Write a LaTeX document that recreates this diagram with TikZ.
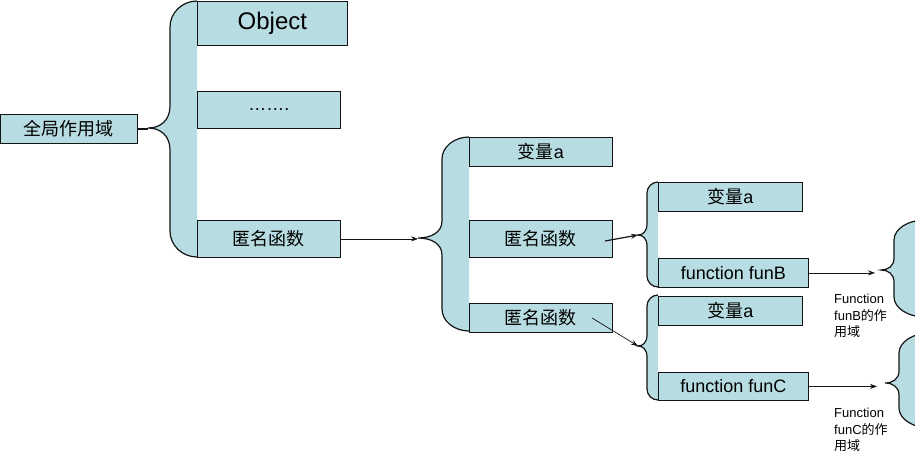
\documentclass[tikz,border=0pt]{standalone}
\usepackage{fontspec}
\setmainfont{Liberation Sans}
\newfontfamily\cjk{Noto Sans CJK SC}
\usepackage{xcolor}
\definecolor{scopeblue}{RGB}{183,221,226}
\definecolor{ink}{RGB}{20,20,20}
\usetikzlibrary{arrows.meta,calc}
\tikzset{
  scopebox/.style={draw=ink, fill=scopeblue, line width=0.8pt, inner sep=0pt,
                   anchor=north west, font=\fontsize{18}{20}\selectfont},
  bracefill/.style={fill=scopeblue},
  braceline/.style={draw=ink, line width=1.2pt},
  link/.style={draw=ink, line width=0.7pt, -{Stealth[length=7pt,width=5pt]}},
  note/.style={anchor=north west, inner sep=0pt, align=left,
               font=\fontsize{13}{16.5}\selectfont},
}
% name, x of brace, x of boxes, top, bottom, tip x, tip y, corner, tip height
\newcommand{\scopebrace}[9]{%
  \coordinate (#1) at (#6,#7);
  \fill[bracefill] (#3,#4) .. controls ({#3-(#3-#2)*0.55},#4) and (#2,{#4+#8*0.45}) .. (#2,{#4+#8})
    -- (#2,{#7-#9}) .. controls (#2,{#7-#9/3}) and ({#2-(#2-#6)*0.45},#7) .. (#6,#7)
    .. controls ({#2-(#2-#6)*0.45},#7) and (#2,{#7+#9/3}) .. (#2,{#7+#9})
    -- (#2,{#5-#8}) .. controls (#2,{#5-#8*0.45}) and ({#3-(#3-#2)*0.55},#5) .. (#3,#5) -- cycle;
  \draw[braceline] (#3,#4) .. controls ({#3-(#3-#2)*0.55},#4) and (#2,{#4+#8*0.45}) .. (#2,{#4+#8})
    -- (#2,{#7-#9}) .. controls (#2,{#7-#9/3}) and ({#2-(#2-#6)*0.45},#7) .. (#6,#7)
    .. controls ({#2-(#2-#6)*0.45},#7) and (#2,{#7+#9/3}) .. (#2,{#7+#9})
    -- (#2,{#5-#8}) .. controls (#2,{#5-#8*0.45}) and ({#3-(#3-#2)*0.55},#5) .. (#3,#5);
}
\begin{document}
\begin{tikzpicture}[x=1pt,y=-1pt]
\path[use as bounding box] (0,0) rectangle (915,458);
\clip (0,0) rectangle (915,458);

% braces
\scopebrace{tipA}{170}{197}{1}{257}{148}{128}{26}{22}
\scopebrace{tipB}{442}{469}{137}{331}{418}{238}{22}{17}
\scopebrace{tipC}{647}{658}{182}{287}{638}{235}{11}{11}
\scopebrace{tipD}{647}{658}{295}{400}{638}{346}{11}{11}
\scopebrace{tipE}{894}{925}{220}{317}{881}{270}{20}{12}
\scopebrace{tipF}{899}{930}{333}{428}{885}{383}{20}{12}

% global scope
\node[scopebox, minimum width=137pt, minimum height=29pt] (global) at (0,114) {{\cjk 全局作用域}};
\node[scopebox, minimum width=150pt, minimum height=44pt,
      font=\fontsize{24}{26}\selectfont] (object) at (197,1) {Object};
\node[scopebox, minimum width=143pt, minimum height=37pt] (dots) at (197,91) {…….};
\node[scopebox, minimum width=143pt, minimum height=37pt] (anon1) at (197,220) {{\cjk 匿名函数}};

% anonymous function scope
\node[scopebox, minimum width=143pt, minimum height=29pt] (varA) at (469,137) {{\cjk 变量}a};
\node[scopebox, minimum width=143pt, minimum height=37pt] (anon2) at (469,220) {{\cjk 匿名函数}};
\node[scopebox, minimum width=143pt, minimum height=29pt] (anon3) at (469,303) {{\cjk 匿名函数}};

% inner scopes
\node[scopebox, minimum width=144pt, minimum height=29pt] (varB) at (658,182) {{\cjk 变量}a};
\node[scopebox, minimum width=150pt, minimum height=29pt] (funB) at (658,258) {function funB};
\node[scopebox, minimum width=144pt, minimum height=29pt] (varC) at (658,296) {{\cjk 变量}a};
\node[scopebox, minimum width=150pt, minimum height=28pt] (funC) at (658,372) {function funC};

\node[note] (noteB) at (834,294) {Function\\funB{\cjk 的作}\\{\cjk 用域}};
\node[note] (noteC) at (834,408) {Function\\funC{\cjk 的作}\\{\cjk 用域}};

% links
\coordinate (fromB) at (605,241);
\coordinate (fromC) at (592,318);
\draw[braceline] (global.east) -- (global.east -| tipA);
\draw[link] (anon1.east) -- (anon1.east -| tipB);
\draw[link, line width=1.2pt] (fromB) -- (tipC);
\draw[link] (fromC) -- (tipD);
\draw[link, shorten >=6pt] (funB.east) -- (funB.east -| tipE);
\draw[link, shorten >=8pt] (funC.east) -- (funC.east -| tipF);
\end{tikzpicture}
\end{document}
